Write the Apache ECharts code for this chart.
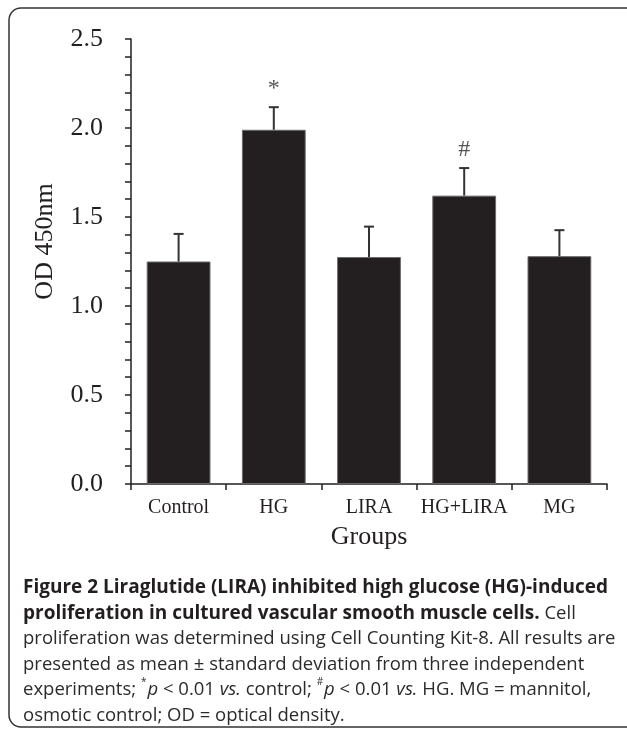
<!DOCTYPE html>
<html>
<head>
<meta charset="utf-8">
<script src="https://cdn.jsdelivr.net/npm/echarts@6/dist/echarts.min.js"></script>
<style>html,body{margin:0;padding:0;background:#fff;}#c{width:627px;height:735px;}</style>
</head>
<body>
<div id="c"></div>
<script>
var categories = ['Control', 'HG', 'LIRA', 'HG+LIRA', 'MG'];
var means = [1.25, 1.99, 1.275, 1.62, 1.28];
var sds = [0.155, 0.127, 0.171, 0.155, 0.146];
var marks = ['', '*', '', '#', ''];
var yTicks = { min: 0, max: 2.5, interval: 0.5 };

var serif = '"Liberation Serif", "Times New Roman", serif';
var sans = '"Open Sans", "Noto Sans", sans-serif';
var ink = '#231f20';

var errData = categories.map(function (c, i) { return [i, means[i], means[i] + sds[i], marks[i]]; });

var caption = [
  '{b|Figure 2 Liraglutide (LIRA) inhibited high glucose (HG)-induced}',
  '{b|proliferation in cultured vascular smooth muscle cells.}{r| Cell}',
  '{r|proliferation was determined using Cell Counting Kit-8. All results are}',
  '{r|presented as mean ± standard deviation from three independent}',
  '{r|experiments; }{sup|*}{i|p}{r| < 0.01 }{i|vs.}{r| control; }{sup|#}{i|p}{r| < 0.01 }{i|vs.}{r| HG. MG = mannitol,}',
  '{r|osmotic control; OD = optical density.}'
].join('\n');

var chart = echarts.init(document.getElementById('c'));
chart.setOption({
  animation: false,
  backgroundColor: '#fff',
  title: {
    text: caption,
    left: 18,
    top: 570,
    textStyle: {
      fontWeight: 'normal',
      rich: {
        b: { fontFamily: sans, fontWeight: 'bold', fontSize: 19, color: ink, lineHeight: 25.5 },
        r: { fontFamily: sans, fontWeight: 'normal', fontSize: 18.5, color: '#2b2b2b', lineHeight: 25.5 },
        i: { fontFamily: sans, fontWeight: 'normal', fontStyle: 'italic', fontSize: 18.5, color: '#2b2b2b', lineHeight: 25.5 },
        sup: { fontFamily: sans, fontWeight: 'normal', fontSize: 10, color: '#2b2b2b', lineHeight: 25.5, verticalAlign: 'top', padding: [0, 1, 0, 0] }
      }
    }
  },
  graphic: [{
    type: 'rect',
    shape: { x: 9, y: 8, width: 640, height: 719, r: 12 },
    style: { fill: 'none', stroke: '#333', lineWidth: 1.5 },
    silent: true,
    z: -1
  }],
  grid: { left: 131, right: 20, top: 39, bottom: 251, containLabel: false },
  xAxis: {
    type: 'category',
    data: categories,
    name: 'Groups',
    nameLocation: 'middle',
    nameGap: 40,
    nameTextStyle: { fontFamily: serif, fontSize: 26, color: ink },
    axisLine: { lineStyle: { color: ink, width: 1.5 } },
    axisTick: { show: true, length: 6, lineStyle: { color: ink, width: 1.5 } },
    axisLabel: { fontFamily: serif, fontSize: 20, color: ink, margin: 14, interval: 0 }
  },
  yAxis: {
    type: 'value',
    min: yTicks.min,
    max: yTicks.max,
    interval: yTicks.interval,
    name: 'OD 450nm',
    nameLocation: 'middle',
    nameGap: 73,
    nameTextStyle: { fontFamily: serif, fontSize: 26, color: ink, padding: [0, 0, 0, 40] },
    axisLine: { show: true, lineStyle: { color: ink, width: 1.5 } },
    axisTick: { show: true, length: 6, lineStyle: { color: ink, width: 1.5 } },
    minorTick: { show: true, splitNumber: 5, length: 6, lineStyle: { color: ink, width: 1.5 } },
    splitLine: { show: false },
    axisLabel: {
      fontFamily: serif, fontSize: 26, color: ink, margin: 28,
      formatter: function (v) { return v.toFixed(1); }
    }
  },
  series: [{
    type: 'bar',
    data: means,
    barWidth: '67%',
    itemStyle: { color: ink, borderColor: '#6a6a6a', borderWidth: 1 },
    z: 2
  }, {
    type: 'custom',
    data: errData,
    encode: { x: 0, y: 2 },
    clip: false,
    z: 3,
    renderItem: function (params, api) {
      var i = api.value(0);
      var p0 = api.coord([i, api.value(1)]);
      var p1 = api.coord([i, api.value(2)]);
      var mark = errData[params.dataIndex][3];
      var children = [
        { type: 'line', shape: { x1: p0[0], y1: p0[1], x2: p1[0], y2: p1[1] }, style: { stroke: '#333', lineWidth: 2 } },
        { type: 'line', shape: { x1: p1[0] - 5, y1: p1[1], x2: p1[0] + 5, y2: p1[1] }, style: { stroke: '#333', lineWidth: 2 } }
      ];
      if (mark) {
        children.push({
          type: 'text',
          style: {
            text: mark, x: p1[0], y: p1[1] - 6,
            align: 'center', verticalAlign: 'bottom',
            fontFamily: serif, fontSize: 24, fill: '#555'
          }
        });
      }
      return { type: 'group', children: children };
    }
  }]
});
</script>
</body>
</html>
